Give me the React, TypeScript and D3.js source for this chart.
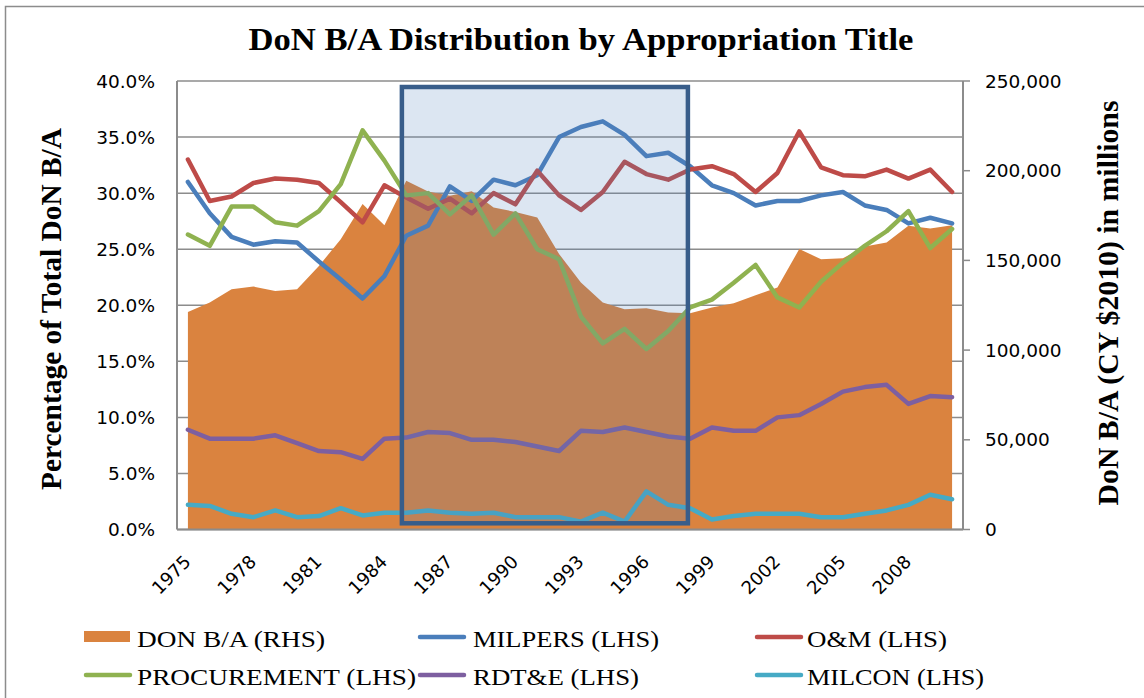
import * as d3 from 'd3';

// fiscal years on the category axis
const years = [
  1975, 1976, 1977, 1978, 1979, 1980, 1981, 1982, 1983, 1984, 1985, 1986,
  1987, 1988, 1989, 1990, 1991, 1992, 1993, 1994, 1995, 1996, 1997, 1998,
  1999, 2000, 2001, 2002, 2003, 2004, 2005, 2006, 2007, 2008, 2009, 2010,
];

// DoN B/A, CY $2010 millions (right axis)
const donBA = [
  121300, 126500, 133900, 135400, 133000, 133900, 146900, 161800, 181400, 169600, 194400, 188400,
  186000, 188500, 179500, 177000, 173900, 153500, 137700, 126500, 122800, 123300, 120900, 120500,
  123700, 126100, 130600, 134900, 156300, 150700, 151200, 157700, 160000, 169300, 167800, 169600,
];

// shares of total, percent (left axis)
const milpers = [
  31.0, 28.2, 26.1, 25.4, 25.7, 25.6, 23.9, 22.3, 20.6, 22.6, 26.2, 27.1,
  30.6, 29.3, 31.2, 30.7, 31.6, 35.0, 35.9, 36.4, 35.2, 33.3, 33.6, 32.4,
  30.7, 30.0, 28.9, 29.3, 29.3, 29.8, 30.1, 28.9, 28.5, 27.3, 27.8, 27.3,
];
const onm = [
  33.0, 29.3, 29.7, 30.9, 31.3, 31.2, 30.9, 29.2, 27.4, 30.7, 29.6, 28.6,
  29.5, 28.2, 30.0, 29.0, 32.0, 29.8, 28.5, 30.1, 32.8, 31.7, 31.2, 32.1,
  32.4, 31.7, 30.1, 31.8, 35.5, 32.3, 31.6, 31.5, 32.1, 31.3, 32.1, 30.1,
];
const procurement = [
  26.3, 25.3, 28.8, 28.8, 27.4, 27.1, 28.4, 30.8, 35.6, 32.9, 29.8, 30.0,
  28.1, 29.8, 26.3, 28.2, 25.0, 24.1, 19.0, 16.6, 17.9, 16.1, 17.7, 19.8,
  20.5, 22.0, 23.6, 20.7, 19.8, 22.1, 23.8, 25.3, 26.6, 28.4, 25.1, 26.8,
];
const rdte = [
  8.9, 8.1, 8.1, 8.1, 8.4, 7.7, 7.0, 6.9, 6.3, 8.1, 8.2, 8.7,
  8.6, 8.0, 8.0, 7.8, 7.4, 7.0, 8.8, 8.7, 9.1, 8.7, 8.3, 8.1,
  9.1, 8.8, 8.8, 10.0, 10.2, 11.2, 12.3, 12.7, 12.9, 11.2, 11.9, 11.8,
];
const milcon = [
  2.2, 2.1, 1.4, 1.1, 1.7, 1.1, 1.2, 1.9, 1.25, 1.5, 1.5, 1.7,
  1.5, 1.4, 1.5, 1.1, 1.1, 1.1, 0.7, 1.5, 0.7, 3.4, 2.2, 1.9,
  0.9, 1.2, 1.4, 1.4, 1.4, 1.1, 1.1, 1.4, 1.7, 2.2, 3.1, 2.7,
];

const leftTicks = [0, 5, 10, 15, 20, 25, 30, 35, 40];
const rightTicks = [0, 50000, 100000, 150000, 200000, 250000];

// highlighted span (first / last year covered by the box)
const highlightFrom = 1984.8;
const highlightTo = 1997.9;

const lineSeries = [
  { name: 'MILPERS (LHS)', values: milpers, color: '#4A7EBB' },
  { name: 'O&M (LHS)', values: onm, color: '#BE4B48' },
  { name: 'PROCUREMENT (LHS)', values: procurement, color: '#8FB250' },
  { name: 'RDT&E (LHS)', values: rdte, color: '#7D5FA0' },
  { name: 'MILCON (LHS)', values: milcon, color: '#46AAC5' },
];

const legendItems = [
  { name: 'DON B/A (RHS)', color: '#DA833F', kind: 'rect', w: 188 },
  { name: 'MILPERS (LHS)', color: '#4A7EBB', kind: 'line', w: 186 },
  { name: 'O&M (LHS)', color: '#BE4B48', kind: 'line', w: 140 },
  { name: 'PROCUREMENT (LHS)', color: '#8FB250', kind: 'line', w: 279 },
  { name: 'RDT&E (LHS)', color: '#7D5FA0', kind: 'line', w: 166 },
  { name: 'MILCON (LHS)', color: '#46AAC5', kind: 'line', w: 177 },
];

const W = 1144;
const H = 698;
const serif = "'Liberation Serif', 'Times New Roman', serif";
const sans = "'DejaVu Sans', sans-serif";

export default function App() {
  const left = 177;
  const right = 963;
  const top = 81;
  const bottom = 529.5;

  const x = d3.scaleBand<number>().domain(years).range([left, right]);
  const cx = (yr: number) => (x(yr) as number) + x.bandwidth() / 2;
  const yPct = d3.scaleLinear().domain([0, 40]).range([bottom, top]);
  const yVal = d3.scaleLinear().domain([0, 250000]).range([bottom, top]);

  const area = d3
    .area<number>()
    .x((_, i) => cx(years[i]))
    .y0(bottom)
    .y1(d => yVal(d));

  const line = d3
    .line<number>()
    .x((_, i) => cx(years[i]))
    .y(d => yPct(d));

  const yearPos = d3.scaleLinear().domain([years[0], years[years.length - 1]]).range([cx(years[0]), cx(years[years.length - 1])]);
  const hx0 = yearPos(highlightFrom);
  const hx1 = yearPos(highlightTo);

  const fmt = d3.format(',');

  const legendCols = [84, 418, 755];
  const legendText = [137, 473, 807];
  const legendRows = [637, 675];

  return (
    <svg width={W} height={H} style={{ position: 'absolute', left: 0, top: 0, background: '#fff' }}>
      <rect x={5.5} y={6.5} width={1150} height={720} fill="#fff" stroke="#8C8C8C" strokeWidth={1.5} />

      <text x={581} y={50} textAnchor="middle" fontFamily={serif} fontWeight="bold" fontSize={31}
        textLength={665} lengthAdjust="spacingAndGlyphs">
        DoN B/A Distribution by Appropriation Title
      </text>

      {/* gridlines */}
      {leftTicks.map(t => (
        <line key={t} x1={left} x2={right} y1={yPct(t)} y2={yPct(t)} stroke="#8C8C8C" strokeWidth={1.5} />
      ))}

      <path d={area(donBA) || ''} fill="#DA833F" />

      {lineSeries.map(s => (
        <path key={s.name} d={line(s.values) || ''} fill="none" stroke={s.color} strokeWidth={4.5}
          strokeLinejoin="round" strokeLinecap="round" />
      ))}

      {/* highlight box */}
      <rect x={hx0} y={87} width={hx1 - hx0} height={523.3 - 87} fill="#4F81BD" fillOpacity={0.2}
        stroke="#385D8A" strokeWidth={4.5} />

      {/* axes */}
      <line x1={left} x2={left} y1={top} y2={bottom} stroke="#8C8C8C" strokeWidth={2} />
      <line x1={right} x2={right} y1={top} y2={bottom} stroke="#8C8C8C" strokeWidth={2} />
      <line x1={left} x2={right} y1={bottom} y2={bottom} stroke="#8C8C8C" strokeWidth={2} />
      {rightTicks.map(t => (
        <line key={t} x1={right} x2={right + 7} y1={yVal(t)} y2={yVal(t)} stroke="#8C8C8C" strokeWidth={1.5} />
      ))}

      {leftTicks.map(t => (
        <text key={t} x={155} y={yPct(t)} dy="0.36em" textAnchor="end" fontFamily={sans} fontSize={18.5} fill="#000">
          {t.toFixed(1)}%
        </text>
      ))}
      {rightTicks.map(t => (
        <text key={t} x={985} y={yVal(t)} dy="0.36em" textAnchor="start" fontFamily={sans} fontSize={18.5} fill="#000">
          {fmt(t)}
        </text>
      ))}
      {years.filter((yr, i) => i % 3 === 0).map(yr => (
        <text key={yr} transform={`translate(${cx(yr) + 4},563) rotate(-45)`} textAnchor="end"
          fontFamily={sans} fontSize={18} fill="#000">
          {yr}
        </text>
      ))}

      <text transform="translate(61,309) rotate(-90)" textAnchor="middle" fontFamily={serif} fontWeight="bold"
        fontSize={30} textLength={362} lengthAdjust="spacingAndGlyphs">
        Percentage of Total DoN B/A
      </text>
      <text transform="translate(1118,303) rotate(-90)" textAnchor="middle" fontFamily={serif} fontWeight="bold"
        fontSize={29} textLength={405} lengthAdjust="spacingAndGlyphs">
        DoN B/A (CY $2010) in millions
      </text>

      {/* legend */}
      {legendItems.map((it, i) => {
        const col = i % 3;
        const row = Math.floor(i / 3);
        const ly = legendRows[row];
        return (
          <g key={it.name}>
            {it.kind === 'rect' ? (
              <rect x={legendCols[col]} y={ly - 6} width={46} height={11} fill={it.color} />
            ) : (
              <line x1={legendCols[col] + 2} x2={legendCols[col] + 46} y1={ly} y2={ly} stroke={it.color}
                strokeWidth={4.5} strokeLinecap="round" />
            )}
            <text x={legendText[col]} y={ly + 10} fontFamily={serif} fontSize={24} textLength={it.w}
              lengthAdjust="spacingAndGlyphs" fill="#000">
              {it.name}
            </text>
          </g>
        );
      })}
    </svg>
  );
}
